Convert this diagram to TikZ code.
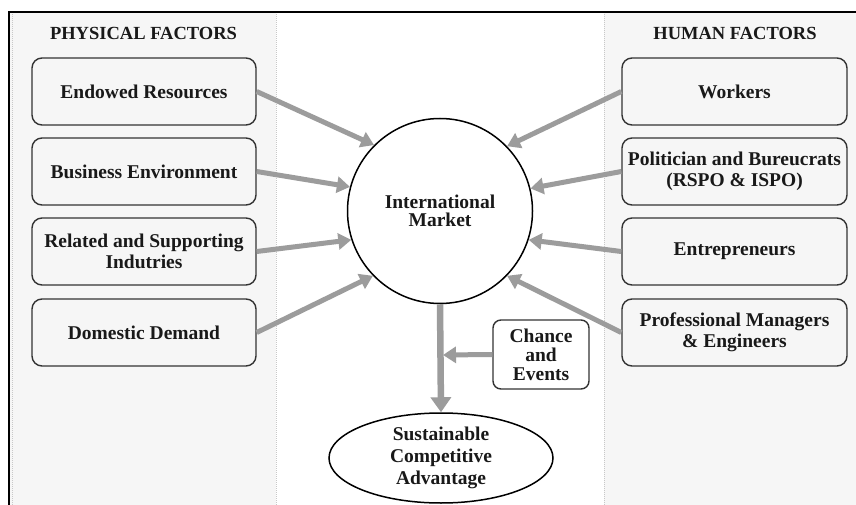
\documentclass[tikz,border=0pt]{standalone}
\usepackage{fontspec}
\setmainfont{Liberation Serif}
\usetikzlibrary{arrows.meta,shapes.geometric}
\definecolor{panelfill}{HTML}{F6F6F6}
\definecolor{arrowgray}{HTML}{9C9C9C}
\definecolor{dotgray}{HTML}{C8C8C8}
\tikzset{
  txt/.style={font=\fontsize{19.5}{21}\selectfont\bfseries, align=center, text=black!90},
  factorbox/.style={txt, draw=black!80, line width=1.4pt, rounded corners=10pt, fill=panelfill, minimum width=224pt, minimum height=67pt, inner sep=2pt},
  header/.style={font=\fontsize{18.5}{18}\selectfont\bfseries, text=black!90},
  bigarrow/.style={draw=arrowgray, line width=5pt, -{Triangle[length=13pt,width=16pt]}},
  mainarrow/.style={draw=arrowgray, line width=6.5pt, -{Triangle[length=15pt,width=20pt]}},
  dotline/.style={draw=dotgray, line width=1pt, densely dotted}
}
\begin{document}
\begin{tikzpicture}[x=1pt,y=-1pt]
\useasboundingbox (0,0) rectangle (856,505);
\fill[white] (0,0) rectangle (856,505);
% panels
\fill[panelfill] (9,12) rectangle (276,505);
\fill[panelfill] (604,12) rectangle (856,505);
\draw[dotline] (12,14) -- (12,505);
\draw[dotline] (276,14) -- (276,505);
\draw[dotline] (604,14) -- (604,505);
\draw[black, line width=1.3pt] (9,505) -- (9,12) -- (856,12);
% headers
\node[header] (hp) at (143.5,33) {PHYSICAL FACTORS};
\node[header] (hh) at (735,33) {HUMAN FACTORS};
% left boxes
\node[factorbox] (er) at (144,91.5) {Endowed Resources};
\node[factorbox] (be) at (144,171.5) {Business Environment};
\node[factorbox] (rs) at (144,251.5) {Related and Supporting\\Indutries};
\node[factorbox] (dd) at (144,332.5) {Domestic Demand};
% right boxes
\node[factorbox, minimum width=225pt] (wk) at (734.5,91.5) {Workers};
\node[factorbox, minimum width=225pt] (pb) at (734.5,171.5) {Politician and Bureucrats\\(RSPO \& ISPO)};
\node[factorbox, minimum width=225pt] (en) at (734.5,251.5) {Entrepreneurs};
\node[factorbox, minimum width=225pt] (pm) at (734.5,332.5) {Professional Managers\\\& Engineers};
% center
\node[txt, font=\fontsize{19.5}{18}\selectfont\bfseries, circle, draw=black, line width=1.5pt, fill=white, minimum size=185pt, inner sep=0pt] (im) at (440,211) {International\\Market};
\node[txt, font=\fontsize{19.5}{22}\selectfont\bfseries, ellipse, draw=black, line width=1.5pt, fill=white, minimum width=224pt, minimum height=90pt, inner sep=0pt] (sca) at (441,458) {Sustainable\\Competitive\\Advantage};
\node[txt, font=\fontsize{19.5}{19}\selectfont\bfseries, draw=black!80, line width=1.4pt, rounded corners=8pt, fill=white, minimum width=96pt, minimum height=69pt, inner sep=1pt] (ce) at (541,354.5) {Chance\\and\\Events};
\coordinate (j) at (443,355);
% arrows
\draw[bigarrow] (er.east) -- (im.135.4);
\draw[bigarrow] (be.east) -- (im.165.5);
\draw[bigarrow] (rs.east) -- (im.198);
\draw[bigarrow] (dd.east) -- (im.224.6);
\draw[bigarrow] (wk.west) -- (im.44.6);
\draw[bigarrow] (pb.west) -- (im.14);
\draw[bigarrow] (en.west) -- (im.-18.6);
\draw[bigarrow] (pm.west) -- (im.-44.6);
\draw[mainarrow] (im.south) -- (sca.north);
\draw[bigarrow] (ce.west) -- (j);
\end{tikzpicture}
\end{document}
